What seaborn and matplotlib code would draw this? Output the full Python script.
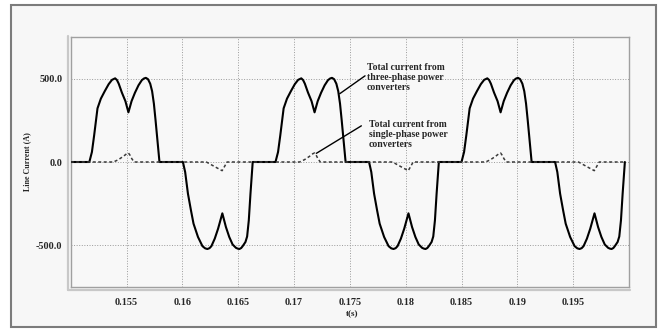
import matplotlib
matplotlib.use("Agg")
import matplotlib.pyplot as plt
from matplotlib.patches import Rectangle
from matplotlib.lines import Line2D
import pandas as pd
import seaborn as sns

# ---- data ----
# Total current from three-phase power converters (t in s, current in A)
t_three = [
    0.15000, 0.15167, 0.15190, 0.15210, 0.15230, 0.15240, 0.15270, 0.15305, 0.15340, 0.15370,
    0.15398, 0.15414, 0.15430, 0.15458, 0.15490, 0.15517, 0.15545, 0.15575, 0.15607, 0.15637,
    0.15656, 0.15673,
    0.15692, 0.15712, 0.15729, 0.15745, 0.15760, 0.15775, 0.15787, 0.15795,
    0.16005, 0.16025, 0.16050, 0.16077, 0.16100, 0.16140, 0.16180, 0.16204, 0.16224, 0.16243,
    0.16260, 0.16290,
    0.16320, 0.16358, 0.16390, 0.16420, 0.16450, 0.16480, 0.16497, 0.16511, 0.16527, 0.16540,
    0.16565, 0.16580,
    0.16595, 0.16610, 0.16622, 0.16630,
    0.16834, 0.16857, 0.16877, 0.16897, 0.16907, 0.16937, 0.16972, 0.17007, 0.17037, 0.17065,
    0.17081, 0.17097, 0.17125, 0.17157, 0.17184, 0.17212, 0.17242, 0.17274, 0.17304, 0.17323,
    0.17340,
    0.17359, 0.17379, 0.17396, 0.17412, 0.17427, 0.17442, 0.17454, 0.17462,
    0.17672, 0.17692, 0.17717, 0.17744, 0.17767, 0.17807, 0.17847, 0.17871, 0.17891, 0.17910,
    0.17927, 0.17957,
    0.17987, 0.18025, 0.18057, 0.18087, 0.18117, 0.18147, 0.18164, 0.18178, 0.18194, 0.18207,
    0.18232, 0.18247,
    0.18262, 0.18277, 0.18289, 0.18297,
    0.18500, 0.18523, 0.18543, 0.18563, 0.18573, 0.18603, 0.18638, 0.18673, 0.18703, 0.18731,
    0.18747, 0.18763, 0.18791, 0.18823, 0.18850, 0.18878, 0.18908, 0.18940, 0.18970, 0.18989,
    0.19006,
    0.19025, 0.19045, 0.19062, 0.19078, 0.19093, 0.19108, 0.19120, 0.19128,
    0.19338, 0.19358, 0.19383, 0.19410, 0.19433, 0.19473, 0.19513, 0.19537, 0.19557, 0.19576,
    0.19593, 0.19623,
    0.19653, 0.19691, 0.19723, 0.19753, 0.19783, 0.19813, 0.19830, 0.19844, 0.19860, 0.19873,
    0.19898, 0.19913,
    0.19928, 0.19943, 0.19955, 0.19963,
]
i_three = [
    0, 0, 60, 160, 270, 322, 380, 425, 467, 493,
    502, 492, 470, 417, 365, 298, 365, 415, 460, 491,
    501, 505,
    497, 470, 425, 350, 250, 140, 50, 0,
    0, -60, -190, -290, -370, -450, -505, -518, -522, -517,
    -505, -460,
    -400, -308, -390, -450, -495, -515, -520, -522, -516, -505,
    -480, -447,
    -350, -190, -80, 0,
    0, 60, 160, 270, 322, 380, 425, 467, 493, 502,
    492, 470, 417, 365, 298, 365, 415, 460, 491, 501,
    505,
    497, 470, 425, 350, 250, 140, 50, 0,
    0, -60, -190, -290, -370, -450, -505, -518, -522, -517,
    -505, -460,
    -400, -308, -390, -450, -495, -515, -520, -522, -516, -505,
    -480, -447,
    -350, -190, -80, 0,
    0, 60, 160, 270, 322, 380, 425, 467, 493, 502,
    492, 470, 417, 365, 298, 365, 415, 460, 491, 501,
    505,
    497, 470, 425, 350, 250, 140, 50, 0,
    0, -60, -190, -290, -370, -450, -505, -518, -522, -517,
    -505, -460,
    -400, -308, -390, -450, -495, -515, -520, -522, -516, -505,
    -480, -447,
    -350, -190, -80, 0,
]

# Total current from single-phase power converters
t_single = [
    0.15000, 0.15383, 0.15427, 0.15472, 0.15502, 0.15517, 0.15532, 0.15547, 0.15568,
    0.16215, 0.16290, 0.16356, 0.16375, 0.16400,
    0.17050, 0.17094, 0.17139, 0.17169, 0.17184, 0.17199, 0.17214, 0.17235,
    0.17882, 0.17957, 0.18023, 0.18042, 0.18067,
    0.18716, 0.18760, 0.18805, 0.18835, 0.18850, 0.18865, 0.18880, 0.18901,
    0.19548, 0.19623, 0.19689, 0.19708, 0.19733, 0.19965,
]
i_single = [
    0, 0, 14, 34, 50, 54, 40, 20, 0,
    0, -28, -52, -30, 0,
    0, 14, 34, 50, 54, 40, 20, 0,
    0, -28, -52, -30, 0,
    0, 14, 34, 50, 54, 40, 20, 0,
    0, -28, -52, -30, 0, 0,
]

x_ticks = [0.155, 0.16, 0.165, 0.17, 0.175, 0.18, 0.185, 0.19, 0.195]
x_tick_labels = ["0.155", "0.16", "0.165", "0.17", "0.175", "0.18", "0.185", "0.19", "0.195"]
y_ticks = [-500, 0, 500]
y_tick_labels = ["-500.0", "0.0", "500.0"]

label_three = "Total current from\nthree-phase power\nconverters"
label_single = "Total current from\nsingle-phase power\nconverters"

df_three = pd.DataFrame({"t": t_three, "i": i_three})
df_single = pd.DataFrame({"t": t_single, "i": i_single})

# ---- styling ----
sns.set_style("white")
plt.rcParams["font.family"] = ["Liberation Serif", "DejaVu Serif"]
plt.rcParams["font.weight"] = "bold"

W, H = 660, 329
fig = plt.figure(figsize=(W / 100, H / 100), dpi=100, facecolor="white")
frame = Rectangle((11 / W, 1 - 327 / H), (656 - 11) / W, (327 - 5) / H,
                  transform=fig.transFigure, facecolor="#f7f7f7",
                  edgecolor="#7c7c7c", lw=1.5, zorder=-10)
fig.patches.append(frame)

ax = fig.add_axes([70.7 / W, 1 - 287 / H, (629 - 70.7) / W, (287 - 37) / H])
ax.set_zorder(1)
ax.set_facecolor("#f8f8f8")

sns.lineplot(data=df_three, x="t", y="i", ax=ax, color="black", lw=1.5,
             estimator=None, sort=False, legend=False, zorder=3)
sns.lineplot(data=df_single, x="t", y="i", ax=ax, color="#3a3a3a", lw=1.1,
             linestyle=(0, (2.0, 1.6)), estimator=None, sort=False, legend=False, zorder=4)

ax.set_xlim(0.15, 0.2)
ax.set_ylim(-750, 750)
ax.set_xticks(x_ticks)
ax.set_xticklabels(x_tick_labels)
ax.set_yticks(y_ticks)
ax.set_yticklabels(y_tick_labels)
ax.grid(True, ls=":", color="#9a9a9a", lw=0.7)
ax.set_axisbelow(True)

ax.tick_params(axis="x", direction="out", length=4, width=0.8, color="#9a9a9a",
               labelsize=7.3, pad=4)
ax.tick_params(axis="y", length=0, labelsize=7.3, pad=6)
for lab in ax.get_xticklabels() + ax.get_yticklabels():
    lab.set_fontweight("bold")

for s in ax.spines.values():
    s.set_color("#a0a0a0")
    s.set_linewidth(1.0)

# bevel lines outside left and bottom spines
fig.add_artist(Line2D([68.2 / W, 68.2 / W], [1 - 289.5 / H, 1 - 36 / H],
                      color="#c8c8c8", lw=1.6, transform=fig.transFigure))
fig.add_artist(Line2D([68.2 / W, 630 / W], [1 - 289.5 / H, 1 - 289.5 / H],
                      color="#c8c8c8", lw=1.6, transform=fig.transFigure))

ax.set_xlabel("t(s)", fontsize=6.5, fontweight="bold")
ax.set_ylabel("Line Current (A)", fontsize=5.8, fontweight="bold")
ax.xaxis.set_label_coords(0.504, -0.092)
ax.yaxis.set_label_coords(-0.078, 0.5)
ax.yaxis.label.set_va("center")

ax.text(0.17651, 591, label_three, fontsize=6.9, fontweight="bold",
        ha="left", va="top", linespacing=1.1, zorder=5)
ax.text(0.17671, 251, label_single, fontsize=6.9, fontweight="bold",
        ha="left", va="top", linespacing=1.1, zorder=5)
ax.annotate("", xy=(0.17410, 410), xytext=(0.17636, 517),
            arrowprops=dict(arrowstyle="-", color="black", lw=1.0, shrinkA=0, shrinkB=0))
ax.annotate("", xy=(0.17200, 52), xytext=(0.17603, 217),
            arrowprops=dict(arrowstyle="-", color="black", lw=1.0, shrinkA=0, shrinkB=0))

fig.savefig("out.png", dpi=100, facecolor="white")
